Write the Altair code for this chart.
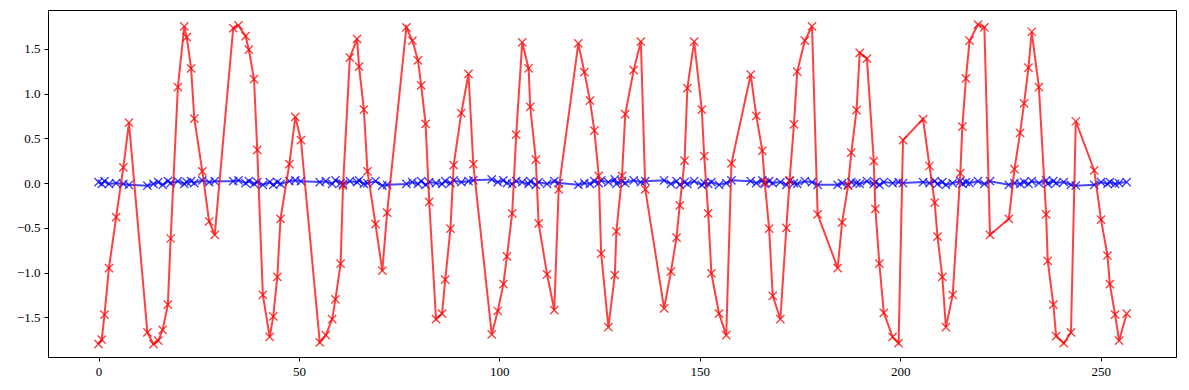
import altair as alt
import pandas as pd

# sample times
t_values = [
    0.0, 0.8, 1.5, 2.6, 4.4, 6.2, 7.6,
    12.2, 13.7, 14.9, 16.0, 17.3, 18.0, 19.8, 21.4, 22.0, 23.1, 23.9, 25.9, 27.6, 29.0,
    33.6, 34.9, 36.7, 37.5, 38.8, 39.6, 41.0,
    42.7, 43.6, 44.6, 45.4, 47.6, 49.1, 50.5,
    55.2, 56.7, 58.3, 59.1, 60.4, 61.0, 62.7, 64.5, 65.0, 66.2, 67.1, 69.1, 70.8, 72.0,
    76.8, 78.3, 79.7, 80.5, 81.6, 82.5, 84.2, 85.7, 86.5, 87.8, 88.6, 90.5, 92.3, 93.5,
    98.1, 99.6, 101.0, 101.9, 103.2, 104.2, 105.7, 107.3, 107.7, 109.1, 109.8, 111.9, 113.7, 114.8,
    119.7, 121.2, 122.6, 123.7, 124.8, 125.4, 127.2, 128.8, 129.2, 130.6, 131.4, 133.5, 135.3, 136.4,
    141.1, 142.8, 144.2, 145.0, 146.2, 146.9, 148.6, 150.5, 151.1, 152.1, 152.9, 154.8, 156.6, 157.9,
    162.7, 164.1, 165.6, 166.2, 167.3, 168.2, 170.1, 171.6, 172.4, 173.5, 174.3, 176.2, 178.0, 179.4,
    184.4, 185.5, 187.0, 187.8, 189.1, 189.9, 191.7, 193.4, 193.8, 194.8, 195.9, 198.1, 199.6, 200.7,
    205.7, 207.3, 208.6, 209.3, 210.5, 211.4, 213.1, 215.0, 215.5, 216.4, 217.3, 219.4, 221.0, 222.4,
    227.1, 228.5, 229.9, 230.9, 232.0, 232.8, 234.6, 236.4, 236.8, 238.2, 238.9, 240.8, 242.6, 243.8,
    248.4, 250.1, 251.7, 252.3, 253.6, 254.6, 256.5,
]

red_values = [
    -1.80, -1.75, -1.47, -0.95, -0.38, 0.175, 0.675,
    -1.67, -1.80, -1.76, -1.64, -1.36, -0.62, 1.07, 1.75, 1.63, 1.28, 0.72, 0.13, -0.43, -0.58,
    1.73, 1.76, 1.64, 1.49, 1.16, 0.37, -1.25,
    -1.72, -1.49, -1.05, -0.40, 0.21, 0.74, 0.48,
    -1.78, -1.70, -1.52, -1.30, -0.90, -0.03, 1.40, 1.61, 1.30, 0.82, 0.13, -0.46, -0.98, -0.33,
    1.74, 1.59, 1.37, 1.09, 0.66, -0.21, -1.52, -1.46, -1.08, -0.51, 0.20, 0.78, 1.22, 0.21,
    -1.69, -1.43, -1.13, -0.82, -0.34, 0.54, 1.57, 1.28, 0.85, 0.26, -0.45, -1.02, -1.42, -0.07,
    1.56, 1.24, 0.92, 0.585, 0.08, -0.79, -1.61, -1.03, -0.54, 0.08, 0.77, 1.26, 1.58, -0.07,
    -1.40, -0.99, -0.61, -0.25, 0.25, 1.06, 1.58, 0.82, 0.30, -0.34, -1.01, -1.46, -1.70, 0.22,
    1.21, 0.75, 0.36, 0.01, -0.51, -1.26, -1.52, -0.50, 0.03, 0.655, 1.245, 1.59, 1.75, -0.35,
    -0.95, -0.44, -0.03, 0.34, 0.815, 1.455, 1.39, 0.245, -0.29, -0.90, -1.45, -1.72, -1.79, 0.48,
    0.715, 0.19, -0.22, -0.60, -1.05, -1.61, -1.25, 0.11, 0.63, 1.17, 1.59, 1.77, 1.74, -0.58,
    -0.40, 0.155, 0.56, 0.89, 1.29, 1.69, 1.07, -0.35, -0.87, -1.36, -1.71, -1.79, -1.67, 0.69,
    0.14, -0.41, -0.81, -1.13, -1.47, -1.76, -1.46,
]

blue_values = [
    0.01, -0.01, 0.02, -0.01, 0.0, -0.01, -0.02,
    -0.03, -0.01, 0.01, -0.02, 0.02, 0.0, 0.02, -0.01, 0.01, 0.02, 0.0, 0.03, 0.01, 0.02,
    0.02, 0.03, 0.0, 0.02, -0.01, 0.01, -0.02,
    0.01, -0.02, 0.01, -0.01, 0.02, 0.03, 0.02,
    0.01, 0.02, -0.01, 0.03, 0.0, -0.01, 0.02, 0.01, 0.03, -0.01, 0.0, 0.02, -0.03, -0.02,
    -0.01, 0.01, -0.01, 0.02, -0.02, 0.01, 0.0, -0.01, 0.02, 0.0, 0.03, 0.01, 0.02, 0.03,
    0.04, 0.01, 0.03, 0.0, -0.01, 0.02, 0.01, -0.01, 0.02, -0.02, 0.01, -0.01, 0.02, 0.0,
    -0.02, 0.0, -0.01, 0.02, 0.0, 0.03, 0.01, 0.04, -0.01, 0.02, 0.0, 0.03, 0.01, 0.02,
    0.03, -0.01, 0.02, -0.02, 0.01, -0.01, 0.02, -0.02, 0.0, -0.01, 0.01, -0.02, 0.0, 0.03,
    0.02, 0.0, 0.03, -0.01, 0.02, 0.0, 0.01, -0.02, 0.02, 0.0, -0.01, 0.02, 0.01, -0.02,
    -0.02, 0.0, -0.02, 0.01, 0.0, -0.01, 0.02, -0.01, 0.01, -0.02, 0.01, 0.0, 0.01, 0.0,
    0.01, 0.0, 0.02, -0.01, 0.01, -0.02, 0.0, 0.02, -0.01, 0.01, 0.0, 0.02, -0.01, 0.02,
    -0.02, 0.0, -0.01, 0.01, -0.01, 0.02, 0.0, 0.03, -0.01, 0.02, 0.0, 0.01, -0.02, -0.03,
    -0.02, 0.01, -0.01, 0.01, -0.01, 0.0, 0.01,
]

x_ticks = [0, 50, 100, 150, 200, 250]
y_ticks = [-1.5, -1.0, -0.5, 0.0, 0.5, 1.0, 1.5]

n = min(len(t_values), len(red_values), len(blue_values))
df_red = pd.DataFrame({"t": t_values[:n], "v": red_values[:n]})
df_blue = pd.DataFrame({"t": t_values[:n], "v": blue_values[:n]})

FONT = "Liberation Serif"
X_SHAPE = "M-1,-1L1,1M-1,1L1,-1"

x_enc = alt.X(
    "t:Q",
    scale=alt.Scale(domain=[-12.6, 268.8], nice=False, zero=False),
    axis=alt.Axis(values=x_ticks, format="d", title=None, grid=False),
)
y_enc = alt.Y(
    "v:Q",
    scale=alt.Scale(domain=[-1.944, 1.933], nice=False, zero=False),
    axis=alt.Axis(values=y_ticks, format=".1f", title=None, grid=False),
)


def series(df, color, opacity):
    base = alt.Chart(df).encode(x=x_enc, y=y_enc)
    line = base.mark_line(color=color, opacity=opacity, strokeWidth=2)
    pts = base.mark_point(
        shape=X_SHAPE, filled=False, color=color, opacity=opacity,
        strokeWidth=1.4, size=68,
    )
    return [line, pts]


layers = series(df_blue, "#0000ff", 0.72) + series(df_red, "#ff0000", 0.75)

chart = (
    alt.layer(*layers)
    .properties(
        width=1128,
        height=347,
        autosize=alt.AutoSizeParams(type="none"),
        padding={"left": 40, "top": 2, "right": 5, "bottom": 33},
    )
    .configure_view(stroke="black", strokeWidth=1)
    .configure_axis(
        domainColor="black",
        domainWidth=1,
        tickColor="black",
        tickSize=4,
        tickWidth=1,
        labelFont=FONT,
        labelFontSize=13,
        labelColor="black",
        labelPadding=4,
    )
)

chart.save("out.html", embed_options={"renderer": "svg", "actions": False})
